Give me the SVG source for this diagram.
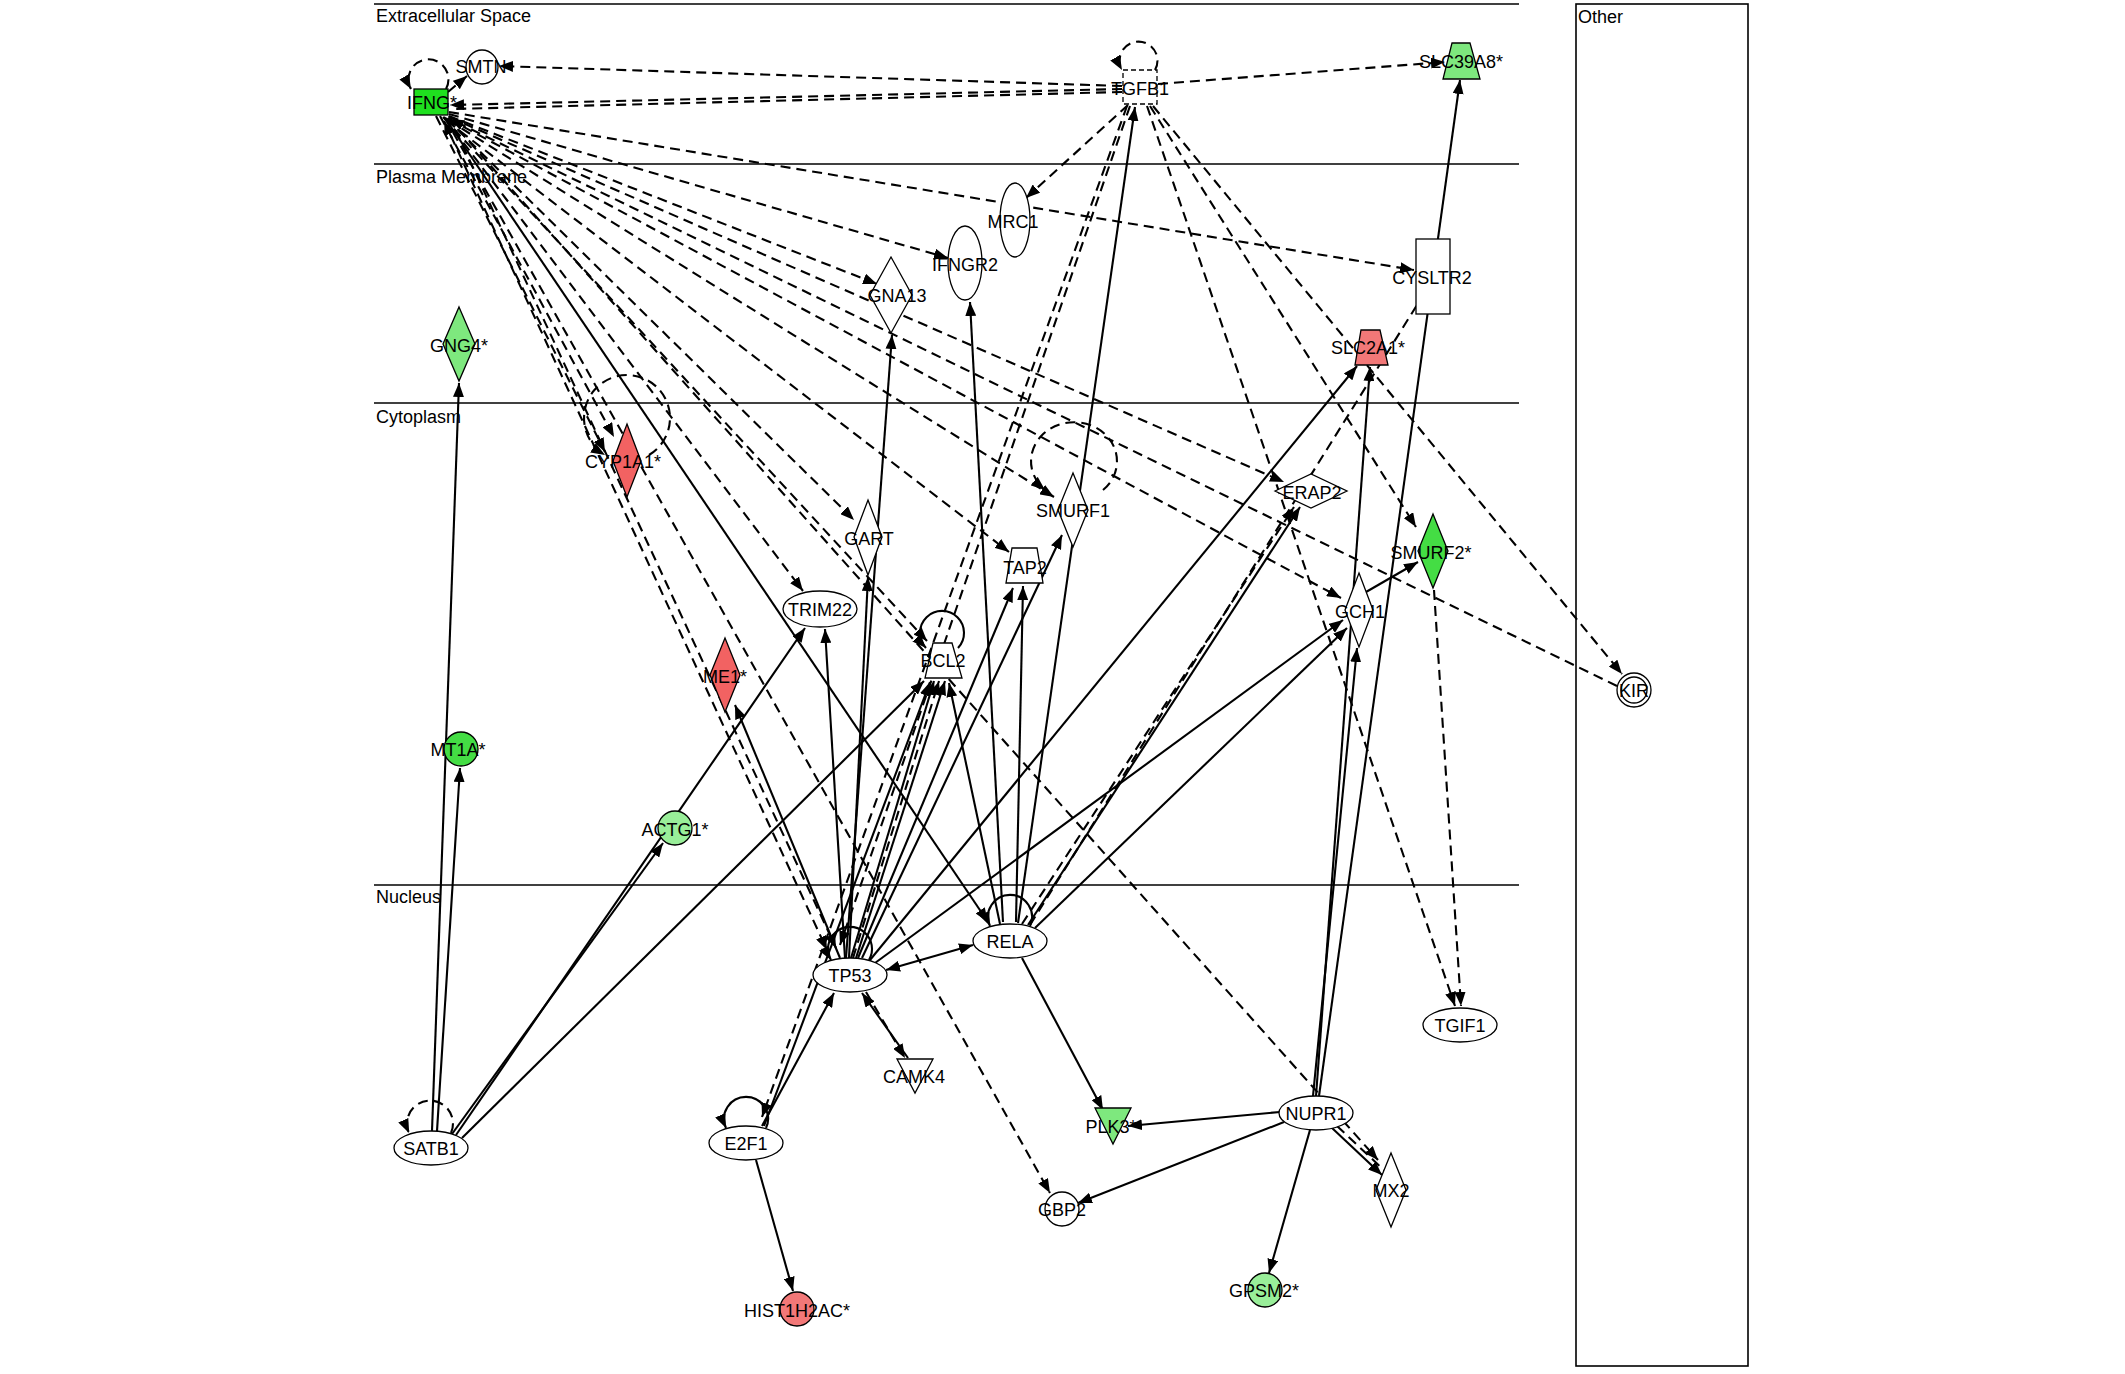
<svg xmlns="http://www.w3.org/2000/svg" width="2125" height="1374" viewBox="0 0 2125 1374">
<style>
.bg{fill:#fff}
.comp{stroke:#000;stroke-width:1.6;fill:none}
.clabel{font-family:"Liberation Sans",Arial,sans-serif;font-size:18px;fill:#000}
.lbl{font-family:"Liberation Sans",Arial,sans-serif;font-size:18px;fill:#000;text-anchor:middle}
.n{stroke:#000;stroke-width:1.3}
.s{stroke:#000;stroke-width:2.1;fill:none}
.d{stroke:#000;stroke-width:2.1;fill:none;stroke-dasharray:10,6}
.w{fill:#fff}
.g1{fill:#1fe01f}
.g2{fill:#44dd44}
.g3{fill:#7ee87e}
.g4{fill:#99ee99}
.r1{fill:#f26262}
.r2{fill:#f27878}
</style>
<defs>
<marker id="ah" viewBox="0 0 14 11" refX="14" refY="5.5" markerWidth="14" markerHeight="11" markerUnits="userSpaceOnUse" orient="auto-start-reverse">
<path d="M0,0 L14,5.5 L0,11 z" fill="#000"/>
</marker>
</defs>
<rect class="bg" x="0" y="0" width="2125" height="1374"/>
<g id="compartments">
<line class="comp" x1="374" y1="4" x2="1519" y2="4"/>
<line class="comp" x1="374" y1="164" x2="1519" y2="164"/>
<line class="comp" x1="374" y1="403" x2="1519" y2="403"/>
<line class="comp" x1="374" y1="885" x2="1519" y2="885"/>
<rect class="comp" x="1576" y="4" width="172" height="1362"/>
<text class="clabel" x="376" y="22">Extracellular Space</text>
<text class="clabel" x="376" y="183">Plasma Membrane</text>
<text class="clabel" x="376" y="423">Cytoplasm</text>
<text class="clabel" x="376" y="903">Nucleus</text>
<text class="clabel" x="1578" y="23">Other</text>
</g>
<g id="connectors">
<g marker-end="url(#ah)">
<line class="d" x1="1122" y1="86" x2="499" y2="66"/>
<line class="d" x1="1122" y1="89" x2="450" y2="105"/>
<line class="d" x1="1158" y1="84" x2="1445" y2="62"/>
<line class="d" x1="448" y1="92" x2="467" y2="76"/>
<line class="d" x1="449" y1="112" x2="1414" y2="270"/>
<line class="d" x1="1128" y1="105" x2="1026" y2="198"/>
<line class="d" x1="449" y1="114" x2="948" y2="258"/>
<line class="d" x1="449" y1="116" x2="877" y2="284"/>
<line class="d" x1="449" y1="117" x2="1284" y2="482"/>
<line class="d" x1="449" y1="119" x2="1341" y2="598"/>
<line class="d" x1="448" y1="120" x2="1054" y2="497"/>
<line class="d" x1="447" y1="121" x2="1009" y2="552"/>
<line class="d" x1="446" y1="118" x2="854" y2="520"/>
<line class="d" x1="444" y1="117" x2="803" y2="591"/>
<line class="d" x1="443" y1="117" x2="927" y2="641"/>
<line class="d" x1="436" y1="116" x2="605" y2="452"/>
<line class="d" x1="440" y1="116" x2="614" y2="437"/>
<line class="d" x1="449" y1="116" x2="836" y2="948"/>
<line class="d" x1="445" y1="118" x2="1050" y2="1193"/>
<line class="d" x1="448" y1="118" x2="1378" y2="1160"/>
<line class="d" x1="1130" y1="106" x2="840" y2="945"/>
<line class="d" x1="1127" y1="106" x2="762" y2="1117"/>
<line class="d" x1="1147" y1="106" x2="1455" y2="1006"/>
<line class="d" x1="1434" y1="590" x2="1461" y2="1006"/>
<line class="d" x1="1150" y1="106" x2="1416" y2="527"/>
<line class="d" x1="1153" y1="106" x2="1622" y2="674"/>
<line class="d" x1="866" y1="992" x2="905" y2="1058"/>
<line class="d" x1="1022" y1="924" x2="1294" y2="507"/>
<line class="d" x1="853" y1="958" x2="939" y2="681"/>
<line class="s" x1="445" y1="118" x2="988" y2="922"/>
<line class="s" x1="1018" y1="923" x2="1135" y2="107"/>
<line class="s" x1="1003" y1="922" x2="970" y2="302"/>
<line class="s" x1="1016" y1="922" x2="1023" y2="586"/>
<line class="s" x1="858" y1="958" x2="1013" y2="588"/>
<line class="s" x1="862" y1="958" x2="1062" y2="535"/>
<line class="s" x1="846" y1="958" x2="892" y2="335"/>
<line class="s" x1="849" y1="958" x2="868" y2="577"/>
<line class="s" x1="845" y1="958" x2="825" y2="629"/>
<line class="s" x1="851" y1="958" x2="934" y2="681"/>
<line class="s" x1="856" y1="958" x2="945" y2="681"/>
<line class="s" x1="840" y1="958" x2="735" y2="705"/>
<line class="s" x1="432" y1="1131" x2="459" y2="383"/>
<line class="s" x1="437" y1="1131" x2="460" y2="768"/>
<line class="s" x1="452" y1="1134" x2="663" y2="843"/>
<line class="s" x1="456" y1="1135" x2="805" y2="628"/>
<line class="s" x1="462" y1="1138" x2="924" y2="681"/>
<line class="s" x1="764" y1="1126" x2="930" y2="682"/>
<line class="s" x1="762" y1="1126" x2="834" y2="993"/>
<line class="s" x1="908" y1="1058" x2="862" y2="993"/>
<line class="s" x1="1022" y1="958" x2="1103" y2="1110"/>
<line class="s" x1="1280" y1="1112" x2="1128" y2="1126"/>
<line class="s" x1="1284" y1="1122" x2="1078" y2="1203"/>
<line class="s" x1="1310" y1="1130" x2="1269" y2="1273"/>
<line class="s" x1="1332" y1="1128" x2="1382" y2="1175"/>
<line class="s" x1="1319" y1="1096" x2="1460" y2="80"/>
<line class="s" x1="1316" y1="1096" x2="1370" y2="367"/>
<line class="s" x1="1313" y1="1096" x2="1357" y2="648"/>
<line class="s" x1="870" y1="960" x2="1357" y2="366"/>
<line class="s" x1="875" y1="963" x2="1343" y2="620"/>
<line class="s" x1="1035" y1="928" x2="1347" y2="628"/>
<line class="s" x1="1028" y1="925" x2="1300" y2="507"/>
<line class="s" x1="1366" y1="592" x2="1418" y2="562"/>
<line class="s" x1="1000" y1="924" x2="949" y2="683"/>
<line class="s" x1="756" y1="1160" x2="793" y2="1291"/>
<path class="d" d="M446,89 A20,20 0 1 0 411,89"/>
<path class="d" d="M1155,70 A19,19 0 1 0 1122,70"/>
<path class="d" d="M649,455 A43,43 0 1 0 605,455"/>
<path class="d" d="M1103,490 A43,39 0 1 0 1045,490"/>
<path class="s" d="M958,648 A22,22 0 1 0 926,648"/>
<path class="s" d="M869,960 A22,22 0 1 0 831,960"/>
<path class="s" d="M1030,926 A22,22 0 1 0 990,926"/>
<path class="s" d="M766,1128 A22,22 0 1 0 726,1128"/>
<path class="d" d="M451,1133 A23,23 0 1 0 409,1133"/>
</g>
<line class="d" x1="1122" y1="92" x2="452" y2="109"/>
<line class="d" x1="1617" y1="686" x2="450" y2="119" marker-end="url(#ah)"/>
<line class="d" x1="1030" y1="925" x2="1417" y2="305"/>
<line class="d" x1="1337" y1="1126" x2="1386" y2="1172"/>
<line class="d" x1="444" y1="121" x2="827" y2="950" marker-start="url(#ah)" marker-end="url(#ah)"/>
<line class="s" x1="886" y1="970" x2="973" y2="945" marker-start="url(#ah)" marker-end="url(#ah)"/>
</g>
<g id="IFNG"><rect class="n g1" x="414" y="89" width="34" height="26"/><text class="lbl" x="432" y="109">IFNG*</text></g>
<g id="SMTN"><ellipse class="n w" cx="482" cy="67" rx="16" ry="17"/><text class="lbl" x="481" y="73">SMTN</text></g>
<g id="TGFB1"><rect class="n w" x="1123" y="70" width="34" height="34" stroke-dasharray="5,3"/><text class="lbl" x="1140" y="95">TGFB1</text></g>
<g id="SLC39A8"><polygon class="n g3" points="1452,43 1470,43 1480,79 1443,79"/><text class="lbl" x="1461" y="68">SLC39A8*</text></g>
<g id="MRC1"><ellipse class="n w" cx="1015" cy="220" rx="15" ry="37"/><text class="lbl" x="1013" y="228">MRC1</text></g>
<g id="IFNGR2"><ellipse class="n w" cx="965" cy="263" rx="17" ry="37"/><text class="lbl" x="965" y="271">IFNGR2</text></g>
<g id="GNA13"><polygon class="n w" points="891,257 912,295 891,333 870,295"/><text class="lbl" x="897" y="302">GNA13</text></g>
<g id="CYSLTR2"><rect class="n w" x="1416" y="239" width="34" height="75"/><text class="lbl" x="1432" y="284">CYSLTR2</text></g>
<g id="SLC2A1"><polygon class="n r2" points="1361,330 1380,330 1388,365 1355,365"/><text class="lbl" x="1368" y="354">SLC2A1*</text></g>
<g id="GNG4"><polygon class="n g3" points="459,307 475,344 459,381 443,344"/><text class="lbl" x="459" y="352">GNG4*</text></g>
<g id="CYP1A1"><polygon class="n r1" points="627,424 641,461 627,497 613,461"/><text class="lbl" x="623" y="468">CYP1A1*</text></g>
<g id="GART"><polygon class="n w" points="868,500 882,537 868,575 854,537"/><text class="lbl" x="869" y="545">GART</text></g>
<g id="TAP2"><polygon class="n w" points="1012,548 1037,548 1043,583 1006,583"/><text class="lbl" x="1025" y="574">TAP2</text></g>
<g id="SMURF1"><polygon class="n w" points="1073,473 1088,510 1073,547 1058,510"/><text class="lbl" x="1073" y="517">SMURF1</text></g>
<g id="ERAP2"><polygon class="n w" points="1275,491 1311,474 1347,491 1311,508"/><text class="lbl" x="1312" y="499">ERAP2</text></g>
<g id="SMURF2"><polygon class="n g2" points="1433,514 1448,551 1433,588 1418,551"/><text class="lbl" x="1431" y="559">SMURF2*</text></g>
<g id="GCH1"><polygon class="n w" points="1359,573 1373,610 1359,647 1345,610"/><text class="lbl" x="1360" y="618">GCH1</text></g>
<g id="KIR"><circle class="n w" cx="1634" cy="690" r="17"/><circle class="n w" cx="1634" cy="690" r="13"/><text class="lbl" x="1634" y="697">KIR</text></g>
<g id="TRIM22"><ellipse class="n w" cx="820" cy="609" rx="37" ry="18"/><text class="lbl" x="820" y="616">TRIM22</text></g>
<g id="BCL2"><polygon class="n w" points="933,643 952,643 962,678 925,678"/><text class="lbl" x="943" y="667">BCL2</text></g>
<g id="ME1"><polygon class="n r1" points="725,638 740,675 725,712 710,675"/><text class="lbl" x="725" y="683">ME1*</text></g>
<g id="MT1A"><circle class="n g2" cx="461" cy="749" r="17"/><text class="lbl" x="458" y="756">MT1A*</text></g>
<g id="ACTG1"><circle class="n g4" cx="675" cy="828" r="17"/><text class="lbl" x="675" y="836">ACTG1*</text></g>
<g id="TP53"><ellipse class="n w" cx="850" cy="975" rx="37" ry="17"/><text class="lbl" x="850" y="982">TP53</text></g>
<g id="RELA"><ellipse class="n w" cx="1010" cy="941" rx="37" ry="17"/><text class="lbl" x="1010" y="948">RELA</text></g>
<g id="TGIF1"><ellipse class="n w" cx="1460" cy="1025" rx="37" ry="17"/><text class="lbl" x="1460" y="1032">TGIF1</text></g>
<g id="SATB1"><ellipse class="n w" cx="431" cy="1148" rx="37" ry="17"/><text class="lbl" x="431" y="1155">SATB1</text></g>
<g id="E2F1"><ellipse class="n w" cx="746" cy="1143" rx="37" ry="17"/><text class="lbl" x="746" y="1150">E2F1</text></g>
<g id="CAMK4"><polygon class="n w" points="897,1059 933,1059 915,1093"/><text class="lbl" x="914" y="1083">CAMK4</text></g>
<g id="PLK3"><polygon class="n g3" points="1095,1108 1131,1108 1113,1144"/><text class="lbl" x="1111" y="1133">PLK3*</text></g>
<g id="NUPR1"><ellipse class="n w" cx="1316" cy="1113" rx="37" ry="17"/><text class="lbl" x="1316" y="1120">NUPR1</text></g>
<g id="MX2"><polygon class="n w" points="1391,1153 1406,1190 1391,1227 1376,1190"/><text class="lbl" x="1391" y="1197">MX2</text></g>
<g id="GBP2"><circle class="n w" cx="1062" cy="1209" r="17"/><text class="lbl" x="1062" y="1216">GBP2</text></g>
<g id="GPSM2"><circle class="n g4" cx="1265" cy="1290" r="17"/><text class="lbl" x="1264" y="1297">GPSM2*</text></g>
<g id="HIST1H2AC"><circle class="n r2" cx="797" cy="1309" r="17"/><text class="lbl" x="797" y="1317">HIST1H2AC*</text></g>
</svg>
